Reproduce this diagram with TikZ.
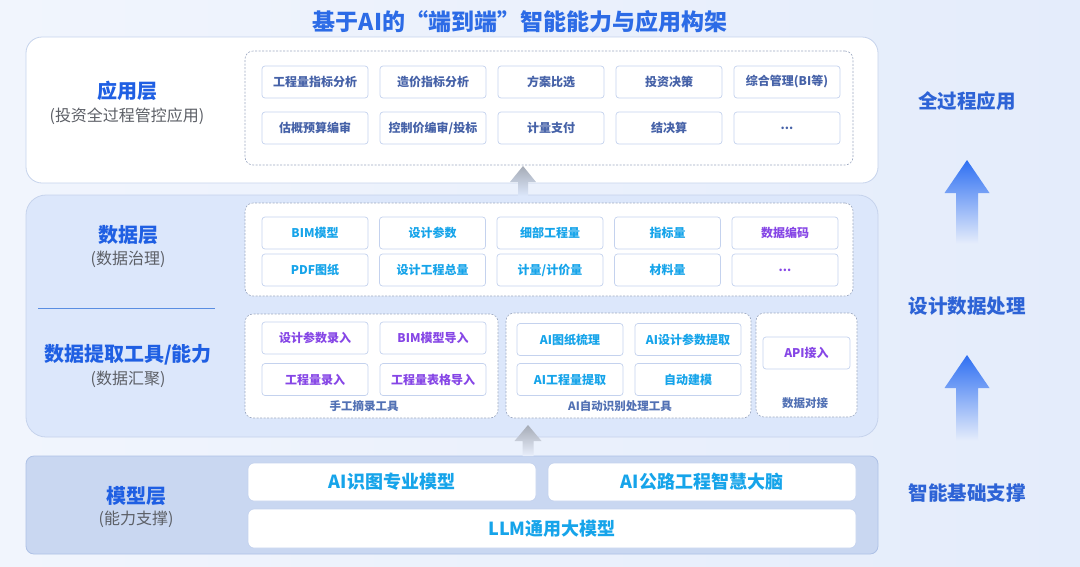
\documentclass[tikz,border=0pt]{standalone}
\usepackage{fontspec}
\setmainfont{Noto Sans CJK SC}
\usetikzlibrary{positioning}

\definecolor{bgleft}{HTML}{F1F5FD}
\definecolor{bgright}{HTML}{E4ECFB}
\definecolor{titleblue}{HTML}{2C6BE6}
\definecolor{headblue}{HTML}{1F5FE3}
\definecolor{subgray}{HTML}{5C5F66}
\definecolor{appink}{HTML}{4662A8}
\definecolor{cyanink}{HTML}{16A4EA}
\definecolor{purpleink}{HTML}{8646E6}
\definecolor{capink}{HTML}{5271B4}
\definecolor{boxline}{HTML}{C4D2EE}
\definecolor{dashline}{HTML}{9DA9C2}
\definecolor{layerline}{HTML}{C6D3EC}
\definecolor{datafill}{HTML}{DCE7FB}
\definecolor{modelfill}{HTML}{C9D7F1}
\definecolor{modelline}{HTML}{AEC1E6}
\definecolor{sideblue}{HTML}{2D63D6}
\definecolor{arrowblue}{HTML}{2E6FF2}
\definecolor{arrowpale}{HTML}{A3C1F7}
\definecolor{arrowgray}{HTML}{A5ABB6}
\definecolor{sepblue}{HTML}{5A8EE2}
\definecolor{bgmid}{HTML}{E9EFFC}

\tikzset{
  layer/.style={draw=layerline, line width=0.8pt, rounded corners=16pt, inner sep=0pt},
  dashbox/.style={draw=dashline, dash pattern=on 2pt off 1.5pt, line width=0.6pt,
                  fill=white, rounded corners=8pt, inner sep=0pt},
  cell/.style={draw=boxline, line width=0.7pt, fill=white, rounded corners=3pt,
               minimum width=106pt, minimum height=32pt, inner sep=0pt,
               font=\fontsize{12}{12}\selectfont\bfseries},
  appcell/.style={cell, text=appink},
  cyancell/.style={cell, text=cyanink},
  purplecell/.style={cell, text=purpleink},
  mbox/.style={draw=boxline, line width=0.7pt, fill=white, rounded corners=6pt, inner sep=0pt,
               text=cyanink, font=\fontsize{18}{18}\selectfont\bfseries},
  head/.style={text=headblue, font=\fontsize{20}{20}\selectfont\bfseries},
  sub/.style={text=subgray, font=\fontsize{16}{16}\selectfont},
  caption/.style={text=capink, font=\fontsize{11.5}{11.5}\selectfont\bfseries},
  side/.style={text=sideblue, font=\fontsize{19.5}{19.5}\selectfont\bfseries}
}

\begin{document}
\begin{tikzpicture}[x=1pt,y=-1pt]
  % background
  \fill[left color=bgleft, right color=bgright] (0,0) rectangle (1080,566);

  \node (title) at (520,22) [text=titleblue, font=\fontsize{23}{23}\selectfont\bfseries] {基于AI的“端到端”智能能力与应用构架};

  % layers
  \node (app)   at (452,110) [layer, fill=white, minimum width=852pt, minimum height=146pt] {};
  \node (data)  at (452,316) [layer, fill=datafill, rounded corners=20pt, minimum width=852pt, minimum height=242pt] {};
  \node (model) at (452,505) [layer, draw=modelline, fill=modelfill, rounded corners=8pt, minimum width=852pt, minimum height=98pt] {};

  % left labels
  \node (apphead)   at (127,91)  [head] {应用层};
  \node (appsub)    at (127,116) [sub] {(投资全过程管控应用)};
  \node (datahead)  at (128,235) [head] {数据层};
  \node (datasub)   at (128,259) [sub] {(数据治理)};
  \node (toolhead)  at (128,355) [head] {数据提取工具/能力};
  \node (toolsub)   at (128,379) [sub] {(数据汇聚)};
  \node (modelhead) at (136,496) [head] {模型层};
  \node (modelsub)  at (136,519) [sub] {(能力支撑)};
  \draw[sepblue, line width=1pt] (38,308) -- (215,308);

  % dashed groups
  \node (appdash)  at (549,108)    [dashbox, minimum width=608pt, minimum height=114pt] {};
  \node (datadash) at (549,249.5)  [dashbox, minimum width=608pt, minimum height=93pt] {};
  \node (handdash) at (371.5,366)  [dashbox, minimum width=253pt, minimum height=104pt] {};
  \node (aidash)   at (628.5,365.5)[dashbox, minimum width=245pt, minimum height=105pt] {};
  \node (apidash)  at (806.5,365)  [dashbox, minimum width=101pt, minimum height=104pt] {};

  % application cells
  \node (a1)  at (315,82)    [appcell] {工程量指标分析};
  \node (a2)  at (433,82)    [appcell] {造价指标分析};
  \node (a3)  at (551,82)    [appcell] {方案比选};
  \node (a4)  at (669,82)    [appcell] {投资决策};
  \node (a5)  at (787,82)    [appcell] {综合管理(BI等)};
  \node (a6)  at (315,128)   [appcell] {估概预算编审};
  \node (a7)  at (433,128)   [appcell] {控制价编审/投标};
  \node (a8)  at (551,128)   [appcell] {计量支付};
  \node (a9)  at (669,128)   [appcell] {结决算};
  \node (a10) at (787,128)   [appcell] {...};

  % data cells
  \node (d1)  at (315,233)   [cyancell] {BIM模型};
  \node (d2)  at (432.5,233) [cyancell] {设计参数};
  \node (d3)  at (550,233)   [cyancell] {细部工程量};
  \node (d4)  at (667.5,233) [cyancell] {指标量};
  \node (d5)  at (785,233)   [purplecell] {数据编码};
  \node (d6)  at (315,270)   [cyancell] {PDF图纸};
  \node (d7)  at (432.5,270) [cyancell] {设计工程总量};
  \node (d8)  at (550,270)   [cyancell] {计量/计价量};
  \node (d9)  at (667.5,270) [cyancell] {材料量};
  \node (d10) at (785,270)   [purplecell] {...};

  % extraction tools
  \node (h1) at (315,338)   [purplecell] {设计参数录入};
  \node (h2) at (433,338)   [purplecell] {BIM模型导入};
  \node (h3) at (315,379.5) [purplecell] {工程量录入};
  \node (h4) at (433,379.5) [purplecell] {工程量表格导入};
  \node (t1) at (570,339.5) [cyancell] {AI图纸梳理};
  \node (t2) at (688,339.5) [cyancell] {AI设计参数提取};
  \node (t3) at (570,379.5) [cyancell] {AI工程量提取};
  \node (t4) at (688,379.5) [cyancell] {自动建模};
  \node (p1) at (806.5,353) [purplecell, minimum width=87pt] {API接入};
  \node (handcap) at (364,406) [caption] {手工摘录工具};
  \node (aicap)   at (620,406) [caption] {AI自动识别处理工具};
  \node (apicap)  at (805,403) [caption] {数据对接};

  % model layer
  \node (m1) at (392,482)   [mbox, minimum width=288pt, minimum height=38pt] {AI识图专业模型};
  \node (m2) at (702,482)   [mbox, minimum width=308pt, minimum height=38pt] {AI公路工程智慧大脑};
  \node (m3) at (552,528.5) [mbox, minimum width=608pt, minimum height=39pt] {LLM通用大模型};

  % flow arrows between layers
  \shade[top color=arrowgray, bottom color=datafill]
    (523,166) -- (536,182) -- (528,182) -- (528,196) -- (518,196) -- (518,182) -- (510,182) -- cycle;
  \shade[top color=arrowgray, bottom color=bgmid]
    (528,425) -- (541.5,441) -- (533.5,441) -- (533.5,456) -- (522.5,456) -- (522.5,441) -- (514.5,441) -- cycle;

  % right column
  \node (side1) at (967,101) [side] {全过程应用};
  \node (side2) at (967,306) [side] {设计数据处理};
  \node (side3) at (967,493) [side] {智能基础支撑};
  \shade[top color=arrowblue, middle color=arrowpale, bottom color=bgright]
    (967,160) -- (989.5,193) -- (978,193) -- (978,243) -- (956,243) -- (956,193) -- (944.5,193) -- cycle;
  \shade[top color=arrowblue, middle color=arrowpale, bottom color=bgright]
    (967,355) -- (989.5,388) -- (978,388) -- (978,440) -- (956,440) -- (956,388) -- (944.5,388) -- cycle;
\end{tikzpicture}
\end{document}
